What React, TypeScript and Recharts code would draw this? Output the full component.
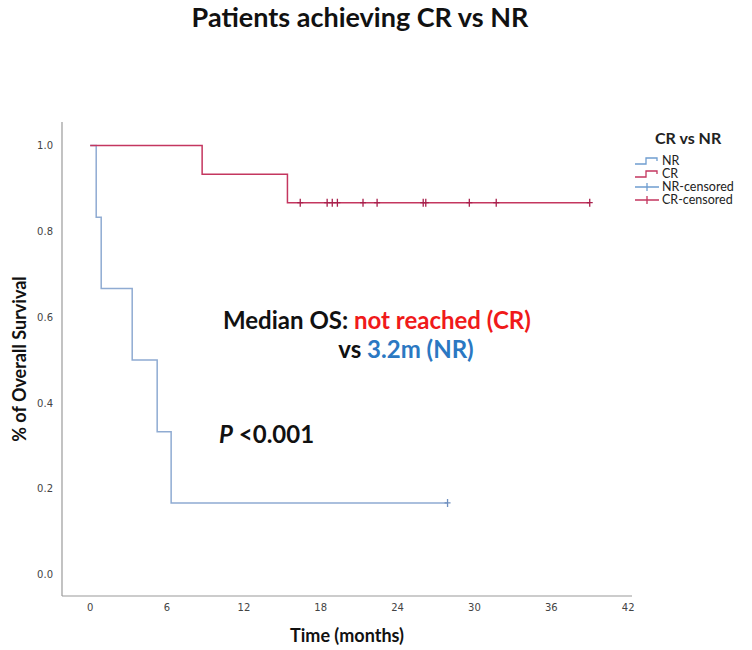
import {
  ComposedChart,
  Line,
  Scatter,
  XAxis,
  YAxis,
} from "recharts";

// time in months, survival proportion
const nrTimes = [0, 0.47, 0.86, 3.28, 5.23, 6.32, 27.9];
const nrSurvival = [1, 0.833, 0.667, 0.5, 0.333, 0.167, 0.167];
const crTimes = [0, 8.74, 15.4, 39.0];
const crSurvival = [1, 0.933, 0.867, 0.867];

const nrCensorTimes = [27.9];
const nrCensorSurvival = [0.167];
const crCensorTimes = [16.4, 18.5, 18.9, 19.3, 21.3, 22.4, 26.0, 26.2, 29.6, 31.7, 39.0];
const crCensorSurvival = [0.867, 0.867, 0.867, 0.867, 0.867, 0.867, 0.867, 0.867, 0.867, 0.867, 0.867];

const xTicks = [0, 6, 12, 18, 24, 30, 36, 42];
const yTicks = [0, 0.2, 0.4, 0.6, 0.8, 1.0];

const NR_COLOR = "#8fabd2";
const CR_COLOR = "#c4365f";
const AXIS_COLOR = "#9a9a9a";
const BOLD_FONT = "Lato, 'Noto Sans', sans-serif";

const toRows = (ts: number[], ss: number[]) => ts.map((t, i) => ({ t, s: ss[i] }));

const nrData = toRows(nrTimes, nrSurvival);
const crData = toRows(crTimes, crSurvival);
const nrCensored = toRows(nrCensorTimes, nrCensorSurvival);
const crCensored = toRows(crCensorTimes, crCensorSurvival);

function censorMark(color: string) {
  return (props: any) => {
    const { cx, cy } = props;
    return (
      <path
        d={`M${cx - 3},${cy} H${cx + 3} M${cx},${cy - 4} V${cy + 4}`}
        stroke={color}
        strokeWidth={1.3}
        fill="none"
      />
    );
  };
}

function StepGlyph({ color }: { color: string }) {
  return (
    <svg width={26} height={10} style={{ display: "block" }}>
      <path d="M1,8 H12 V2 H23 V5" stroke={color} strokeWidth={1.3} fill="none" />
    </svg>
  );
}

function CensorGlyph({ color }: { color: string }) {
  return (
    <svg width={26} height={10} style={{ display: "block" }}>
      <path d="M1,5 H25 M13,1 V9" stroke={color} strokeWidth={1.3} fill="none" />
    </svg>
  );
}

const legendItems = [
  { label: "NR", glyph: <StepGlyph color="#6f9dd0" /> },
  { label: "CR", glyph: <StepGlyph color={CR_COLOR} /> },
  { label: "NR-censored", glyph: <CensorGlyph color="#6f9dd0" /> },
  { label: "CR-censored", glyph: <CensorGlyph color={CR_COLOR} /> },
];

export default function App() {
  return (
    <div style={{ position: "absolute", left: 0, top: 0, width: 752, height: 650, background: "#fff" }}>
      <div
        style={{
          position: "absolute",
          left: 0,
          width: 720,
          top: 3,
          textAlign: "center",
          fontFamily: BOLD_FONT,
          fontWeight: 700,
          fontSize: 27,
          lineHeight: 1,
          color: "#111",
        }}
      >
        Patients achieving CR vs NR
      </div>

      <ComposedChart
        width={752}
        height={650}
        margin={{ top: 122, right: 120, bottom: 0, left: 0 }}
      >
        <XAxis
          type="number"
          dataKey="t"
          domain={[-2.2, 42.3]}
          ticks={xTicks}
          allowDataOverflow
          tickLine={false}
          tickSize={6}
          tickMargin={2}
          height={54}
          axisLine={{ stroke: AXIS_COLOR, strokeWidth: 1.2 }}
          tick={{ fontFamily: "'DejaVu Sans', sans-serif", fontSize: 10, fill: "#444" }}
          label={{
            value: "Time (months)",
            position: "center",
            dy: 13,
            style: { fontFamily: BOLD_FONT, fontWeight: 700, fontSize: 18, fill: "#111" },
          }}
        />
        <YAxis
          type="number"
          dataKey="s"
          domain={[-0.05, 1.055]}
          ticks={yTicks}
          allowDataOverflow
          tickLine={false}
          tickSize={6}
          tickMargin={3}
          width={62}
          tickFormatter={(v: number) => v.toFixed(1)}
          axisLine={{ stroke: AXIS_COLOR, strokeWidth: 1.2 }}
          tick={{ fontFamily: "'DejaVu Sans', sans-serif", fontSize: 10, fill: "#444" }}
          label={{
            value: "% of Overall Survival",
            angle: -90,
            position: "center",
            dx: -11,
            style: { fontFamily: BOLD_FONT, fontWeight: 700, fontSize: 18, fill: "#111", textAnchor: "middle" },
          }}
        />
        <Line
          data={nrData}
          dataKey="s"
          type="stepAfter"
          stroke={NR_COLOR}
          strokeWidth={1.5}
          dot={false}
          isAnimationActive={false}
        />
        <Line
          data={crData}
          dataKey="s"
          type="stepAfter"
          stroke={CR_COLOR}
          strokeWidth={1.5}
          dot={false}
          isAnimationActive={false}
        />
        <Scatter
          data={nrCensored}
          dataKey="s"
          shape={censorMark("#6f8fbf")}
          isAnimationActive={false}
        />
        <Scatter
          data={crCensored}
          dataKey="s"
          shape={censorMark("#a8204c")}
          isAnimationActive={false}
        />
      </ComposedChart>

      <svg
        width={752}
        height={650}
        style={{ position: "absolute", left: 0, top: 0, pointerEvents: "none" }}
      >
        <g fontFamily={BOLD_FONT} fontWeight={700} fontSize={24}>
          <text x={223} y={329} fill="#111">
            Median OS: <tspan fill="#f01a1a">not reached (CR)</tspan>
          </text>
          <text x={406} y={358} fill="#111" textAnchor="middle">
            vs <tspan fill="#2b78c2">3.2m (NR)</tspan>
          </text>
          <text x={219} y={443} fill="#111">
            <tspan fontStyle="italic">P</tspan> &lt;0.001
          </text>
        </g>
      </svg>

      <div
        style={{
          position: "absolute",
          left: 634,
          top: 128,
          fontFamily: BOLD_FONT,
          color: "#222",
        }}
      >
        <div style={{ fontWeight: 700, fontSize: 16, lineHeight: "20px", marginLeft: 21, marginBottom: 6 }}>
          CR vs NR
        </div>
        {legendItems.map((it) => (
          <div
            key={it.label}
            style={{ display: "flex", alignItems: "center", height: 13, lineHeight: "13px", fontSize: 12.5 }}
          >
            {it.glyph}
            <span style={{ marginLeft: 2 }}>{it.label}</span>
          </div>
        ))}
      </div>
    </div>
  );
}
